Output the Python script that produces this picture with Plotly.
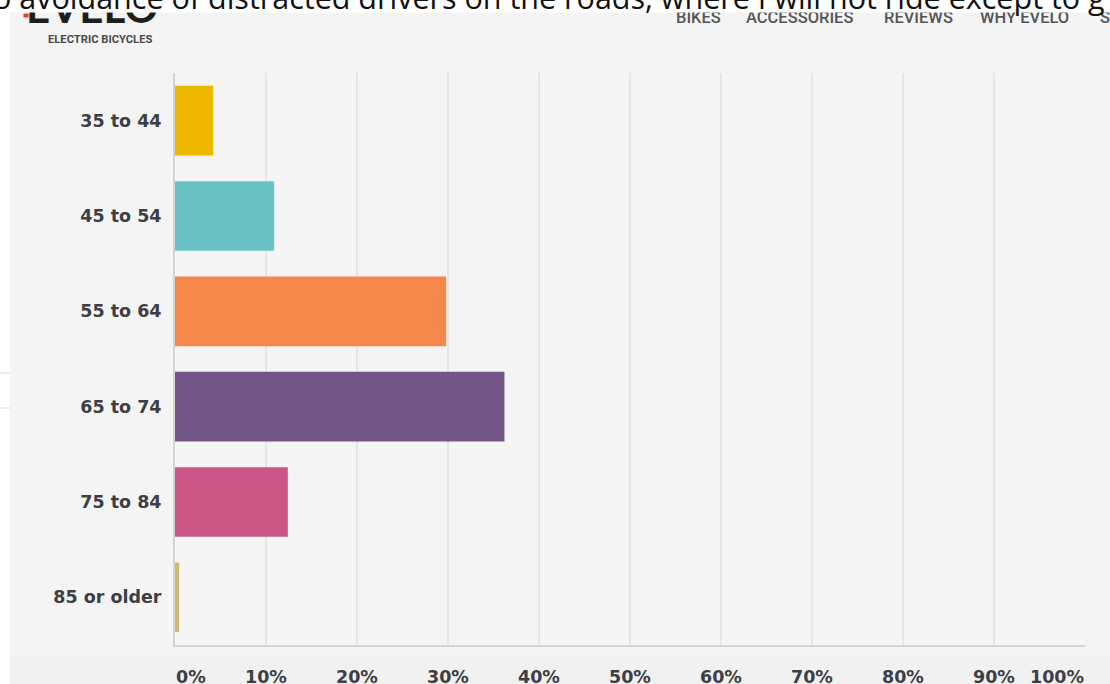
import plotly.graph_objects as go

# ---- data ----
categories = ["35 to 44", "45 to 54", "55 to 64", "65 to 74", "75 to 84", "85 or older"]
percent = [4.2, 10.9, 29.8, 36.2, 12.4, 0.45]
bar_colors = ["#F0B700", "#6AC2C5", "#F6874B", "#745587", "#CC5787", "#CDBA72"]
tick_values = [0, 10, 20, 30, 40, 50, 60, 70, 80, 90, 100]
tick_labels = ["0%", "10%", "20%", "30%", "40%", "50%", "60%", "70%", "80%", "90%", "100%"]

caption = "o avoidance of distracted drivers on the roads, where I will not ride except to g"
nav_items = ["BIKES", "ACCESSORIES", "REVIEWS", "WHY EVELO", "S"]
nav_x = [675, 745, 883, 979, 1099]

W, H = 1110, 684
L, R, T, B = 175, 25, 73, 39
PW, PH = W - L - R, H - T - B


def px(x):
    return (x - L) / PW


def py(y):
    return (H - B - y) / PH


LABEL_FONT = dict(family="DejaVu Sans", size=17.5, color="#3c3f45", weight=700)

fig = go.Figure()
fig.add_trace(go.Bar(
    x=percent, y=categories, orientation="h",
    marker=dict(color=bar_colors, line=dict(width=0)),
    hoverinfo="skip",
))

annotations = []
# header logo / nav (drawn below the white caption band)
annotations.append(dict(text="<b>EVELO</b>", x=px(92), y=py(33), xref="paper", yref="paper",
                        xanchor="center", yanchor="bottom", showarrow=False, borderpad=0,
                        font=dict(family="Lato", size=42, color="#1e1e1e", weight=900)))
annotations.append(dict(text=" ", x=px(23), y=py(13), xref="paper", yref="paper",
                        xanchor="left", yanchor="top", showarrow=False, borderpad=0,
                        width=4, height=3, bgcolor="#e8432a", font=dict(size=1)))
annotations.append(dict(text="ELECTRIC BICYCLES", x=px(100), y=py(39), xref="paper", yref="paper",
                        xanchor="center", yanchor="middle", showarrow=False, borderpad=0,
                        font=dict(family="Roboto", size=11.2, color="#4a4a4a", weight=700)))
for name, nx in zip(nav_items, nav_x):
    annotations.append(dict(text=name, x=px(nx), y=py(28), xref="paper", yref="paper",
                            xanchor="left", yanchor="bottom", showarrow=False, borderpad=0,
                            font=dict(family="Roboto", size=16.5, color="#555555", weight=500)))
# white band at top
annotations.append(dict(text=" ", x=px(-10), y=py(13), xref="paper", yref="paper",
                        xanchor="left", yanchor="bottom", showarrow=False, borderpad=0,
                        width=1140, height=60, bgcolor="#ffffff", font=dict(size=1)))
# caption text
annotations.append(dict(text=caption, x=px(-8), y=py(19), xref="paper", yref="paper",
                        xanchor="left", yanchor="bottom", showarrow=False, borderpad=0,
                        font=dict(family="Open Sans", size=30.5, color="#111111")))
# x tick labels
for v, t in zip(tick_values, tick_labels):
    anchor = "left" if v == tick_values[0] else ("right" if v == tick_values[-1] else "center")
    annotations.append(dict(text=t, x=v, y=py(677), xref="x", yref="paper",
                            xanchor=anchor, yanchor="middle", showarrow=False, borderpad=0,
                            font=LABEL_FONT))

shapes = [
    dict(type="rect", xref="paper", yref="paper", x0=px(-2), x1=px(10), y0=py(H + 5), y1=py(13),
         fillcolor="#ffffff", line=dict(width=0), layer="above"),
    dict(type="line", xref="paper", yref="paper", x0=px(0), x1=px(10), y0=py(373), y1=py(373),
         line=dict(color="#dcdcdc", width=1), layer="above"),
    dict(type="line", xref="paper", yref="paper", x0=px(0), x1=px(10), y0=py(408), y1=py(408),
         line=dict(color="#dcdcdc", width=1), layer="above"),
    dict(type="rect", xref="paper", yref="paper", x0=px(10), x1=px(W + 5), y0=py(H + 5), y1=py(656),
         fillcolor="#f0f1f0", line=dict(width=0), layer="below"),
]

fig.update_layout(
    width=W, height=H, autosize=False,
    margin=dict(l=L, r=R, t=T, b=B, pad=0),
    paper_bgcolor="#f3f4f3", plot_bgcolor="#f4f5f4",
    bargap=0.27, showlegend=False,
    xaxis=dict(range=[0, 100], tickvals=tick_values, showticklabels=False,
               showgrid=True, gridcolor="#e5e6e5", gridwidth=1.5, zeroline=False,
               showline=True, linecolor="#d3d4d3", linewidth=2, ticks="", fixedrange=True),
    yaxis=dict(categoryorder="array", categoryarray=categories, autorange="reversed",
               showgrid=False, zeroline=False, showline=True, linecolor="#d3d4d3", linewidth=2,
               ticks="", ticklabelstandoff=8, tickfont=LABEL_FONT, fixedrange=True),
    annotations=annotations, shapes=shapes,
)

fig.write_html("out.html", config={"displayModeBar": False},
               post_script="document.body.style.margin='0';")
